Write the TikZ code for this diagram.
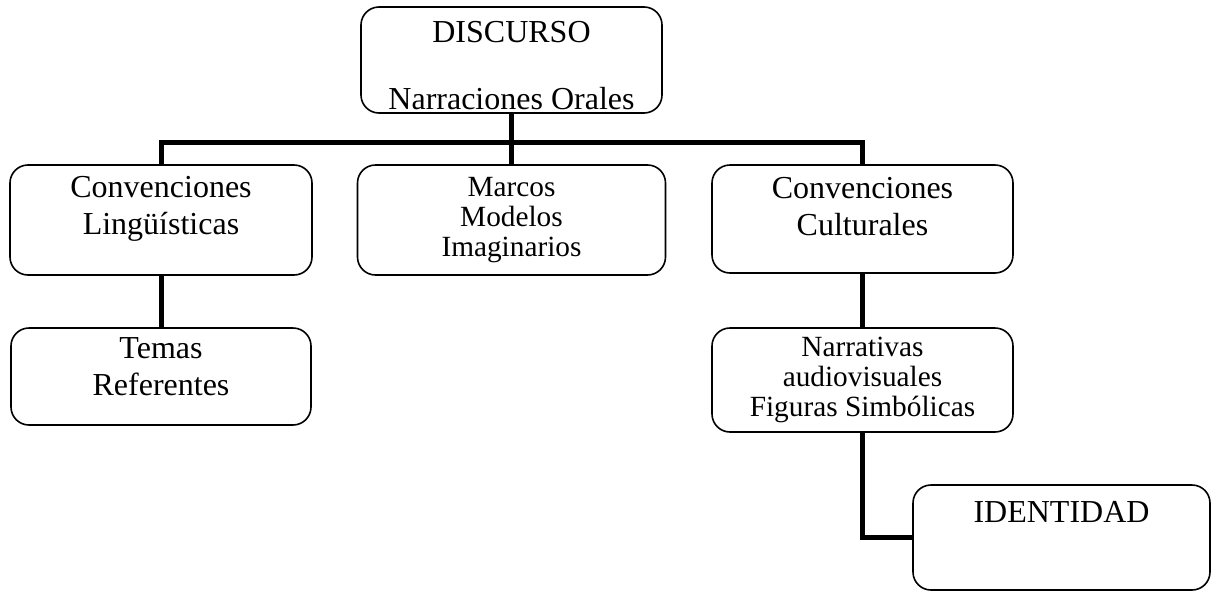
\documentclass[tikz,border=0pt]{standalone}
\usepackage{fontspec}
\setmainfont{Liberation Serif}
\usetikzlibrary{positioning}

\begin{document}
\begin{tikzpicture}[x=1pt,y=-1pt,
  box/.style={draw,rectangle,rounded corners=18pt,line width=1.6pt,inner sep=0pt},
  big text/.style={inner sep=0pt,align=center,font=\fontsize{32}{37}\selectfont},
  small text/.style={inner sep=0pt,align=center,font=\fontsize{29.3}{30}\selectfont},
  link/.style={line width=5pt}]

  \useasboundingbox (0,0) rectangle (1219,592);

  % top
  \node[box,minimum width=301pt,minimum height=106pt] (disc) at (511.5,60) {};
  \node[big text,below=15pt of disc.north] (disc-t) {DISCURSO\\[30pt]Narraciones Orales};

  % second row
  \node[box,minimum width=302pt,minimum height=110pt] (lingu) at (161,220) {};
  \node[big text,below=12pt of lingu.north] (lingu-t) {Convenciones\\Lingüísticas};
  \node[box,small text,minimum width=308pt,minimum height=110pt] (marcos) at (511.5,220) {Marcos\\Modelos\\Imaginarios};
  \node[box,minimum width=301pt,minimum height=108pt] (cult) at (862.5,219) {};
  \node[big text,below=13pt of cult.north] (cult-t) {Convenciones\\Culturales};

  % third row
  \node[box,minimum width=300pt,minimum height=97pt] (temas) at (161,376.5) {};
  \node[big text,below=10pt of temas.north] (temas-t) {Temas\\Referentes};
  \node[box,small text,minimum width=301pt,minimum height=104pt] (narr) at (862.5,380) {Narrativas\\audiovisuales\\Figuras Simbólicas};

  % bottom
  \node[box,minimum width=297pt,minimum height=105pt] (ident) at (1061.5,537.5) {};
  \node[big text,below=17pt of ident.north] (ident-t) {IDENTIDAD};

  % links
  \coordinate (bar) at (511.5,142);
  \draw[link] (disc.south) -- (marcos.north);
  \draw[link] (lingu.north) |- (bar) -| (cult.north);
  \draw[link] (lingu.south) -- (temas.north);
  \draw[link] (cult.south) -- (narr.north);
  \draw[link] (narr.south) |- (ident.west);
\end{tikzpicture}
\end{document}
